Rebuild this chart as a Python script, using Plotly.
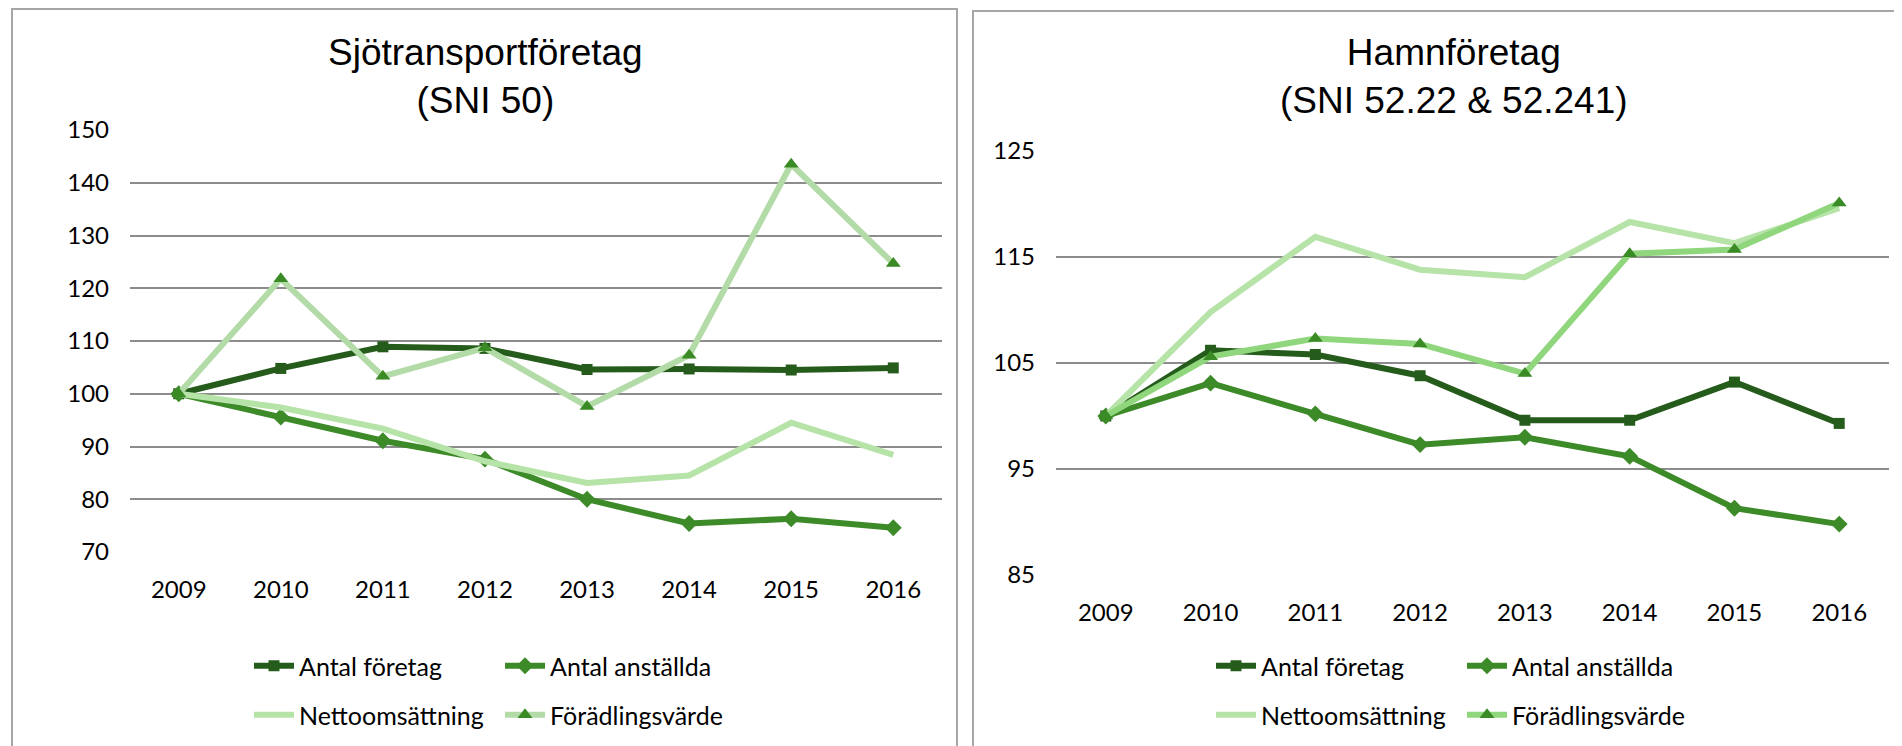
import plotly.graph_objects as go

W, H = 1902, 746
OFF = 8  # page body margin in the browser

years = ["2009", "2010", "2011", "2012", "2013", "2014", "2015", "2016"]

# Sjötransportföretag (SNI 50)
sjo_foretag = [100, 104.8, 108.9, 108.6, 104.6, 104.7, 104.5, 104.9]
sjo_anstallda = [100, 95.6, 91.1, 87.6, 80.0, 75.4, 76.3, 74.6]
sjo_netto = [100, 97.4, 93.4, 87.2, 83.1, 84.5, 94.5, 88.4]
sjo_foradling = [100, 121.8, 103.3, 108.7, 97.6, 107.3, 143.5, 124.7]

# Hamnföretag (SNI 52.22 & 52.241)
hamn_foretag = [100, 106.2, 105.8, 103.8, 99.6, 99.6, 103.2, 99.3]
hamn_anstallda = [100, 103.1, 100.2, 97.3, 98.0, 96.2, 91.3, 89.8]
hamn_netto = [100, 109.8, 116.9, 113.8, 113.1, 118.3, 116.3, 119.6]
hamn_foradling = [100, 105.6, 107.3, 106.8, 104.0, 115.3, 115.7, 120.1]

C_FORETAG = "#265c1b"
C_ANSTALLDA = "#3d8a29"
C_NETTO = "#b6e3a7"
C_FORAD_L = "#b3dba8"
C_FORAD_R = "#8fd67c"
C_MARK = "#3a8a25"
GRID = "#8c8c8c"
TICKFONT = dict(family="Lato", size=24, color="#000000")


def px_x(p):
    return (p - OFF) / W


def px_y(p):
    return 1 - (p - OFF) / H


fig = go.Figure()


def add_chart(xa, ya, foretag, anstallda, netto, forad, c_forad, leg1, leg2):
    fig.add_trace(go.Scatter(x=years, y=foretag, name="Antal företag", mode="lines+markers",
                             line=dict(color=C_FORETAG, width=6),
                             marker=dict(symbol="square", size=11, color=C_FORETAG),
                             xaxis=xa, yaxis=ya, legend=leg1))
    fig.add_trace(go.Scatter(x=years, y=anstallda, name="Antal anställda", mode="lines+markers",
                             line=dict(color=C_ANSTALLDA, width=6),
                             marker=dict(symbol="diamond", size=13, color=C_ANSTALLDA),
                             xaxis=xa, yaxis=ya, legend=leg1))
    fig.add_trace(go.Scatter(x=years, y=netto, name="Nettoomsättning", mode="lines",
                             line=dict(color=C_NETTO, width=6),
                             xaxis=xa, yaxis=ya, legend=leg2))
    fig.add_trace(go.Scatter(x=years, y=forad, name="Förädlingsvärde", mode="lines+markers",
                             line=dict(color=c_forad, width=6),
                             marker=dict(symbol="triangle-up", size=13, color=C_MARK),
                             xaxis=xa, yaxis=ya, legend=leg2))


add_chart("x", "y", sjo_foretag, sjo_anstallda, sjo_netto, sjo_foradling, C_FORAD_L, "legend", "legend2")
add_chart("x2", "y2", hamn_foretag, hamn_anstallda, hamn_netto, hamn_foradling, C_FORAD_R, "legend3", "legend4")

xcommon = dict(type="category", showgrid=False, zeroline=False, showline=False, automargin=False,
               tickfont=TICKFONT, ticks="", ticklabelstandoff=21, fixedrange=True)
ycommon = dict(showgrid=True, gridcolor=GRID, gridwidth=2, zeroline=False, showline=False,
               automargin=False, tickfont=TICKFONT, ticks="", ticklabelstandoff=20, fixedrange=True)

fig.update_layout(
    xaxis=dict(domain=[px_x(130), px_x(942)], anchor="y", **xcommon),
    yaxis=dict(domain=[px_y(552), px_y(130)], anchor="x", range=[70, 150], dtick=10, **ycommon),
    xaxis2=dict(domain=[px_x(1056), px_x(1889)], anchor="y2", **xcommon),
    yaxis2=dict(domain=[px_y(575), px_y(151)], anchor="x2", range=[85, 125], tick0=85, dtick=10, **ycommon),
)

legfont = dict(family="Lato", size=25, color="#000000")
legbase = dict(orientation="h", xanchor="left", yanchor="middle", font=legfont,
               xref="container", yref="container",
               entrywidth=196, entrywidthmode="pixels", itemwidth=40,
               bgcolor="rgba(0,0,0,0)", borderwidth=0, tracegroupgap=0)
fig.update_layout(
    legend=dict(x=px_x(249), y=px_y(666), **legbase),
    legend2=dict(x=px_x(249), y=px_y(715), **legbase),
    legend3=dict(x=px_x(1211), y=px_y(666), **legbase),
    legend4=dict(x=px_x(1211), y=px_y(715), **legbase),
)

title_font = dict(family="Liberation Sans", size=37, color="#000000")
fig.add_annotation(text="Sjötransportföretag<br>(SNI 50)", x=px_x(485), y=px_y(77),
                   xref="paper", yref="paper", showarrow=False, font=title_font,
                   xanchor="center", yanchor="middle")
fig.add_annotation(text="Hamnföretag<br>(SNI 52.22 & 52.241)", x=px_x(1454), y=px_y(77),
                   xref="paper", yref="paper", showarrow=False, font=title_font,
                   xanchor="center", yanchor="middle")

# chart area borders
border = dict(color="#a6a6a6", width=2)
fig.add_shape(type="rect", xref="paper", yref="paper", x0=px_x(12), x1=px_x(957),
              y0=px_y(800), y1=px_y(9), line=border, layer="below")
fig.add_shape(type="rect", xref="paper", yref="paper", x0=px_x(973), x1=px_x(1960),
              y0=px_y(800), y1=px_y(11), line=border, layer="below")

fig.update_layout(width=W, height=H, margin=dict(l=0, r=0, t=0, b=0, autoexpand=False),
                  plot_bgcolor="white", paper_bgcolor="white", showlegend=True)

fig.write_html("out.html")
